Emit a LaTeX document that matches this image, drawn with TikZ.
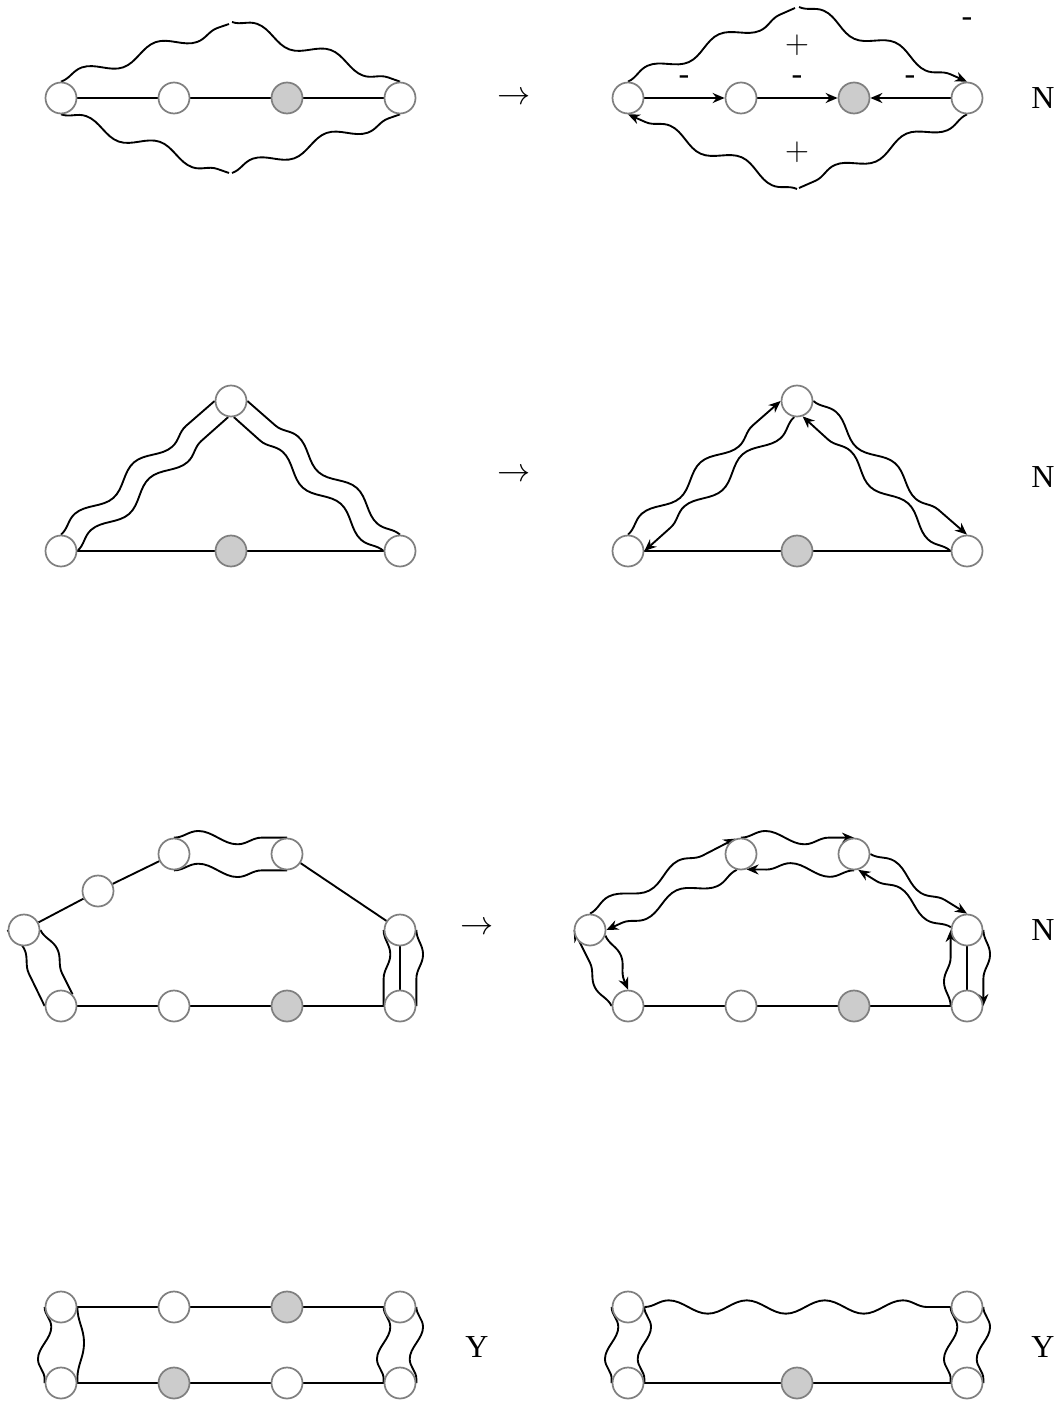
\documentclass[tikz,border=0pt]{standalone}
\usepackage{fontspec}
\setmainfont{Liberation Serif}
\usetikzlibrary{arrows.meta,decorations.pathmorphing,backgrounds}

\begin{document}
\begin{tikzpicture}[
    x=0.75pt, y=-0.75pt,
    wnode/.style={circle, draw=black!50, line width=1.3pt, fill=white, minimum size=23.25pt, inner sep=0pt},
    gnode/.style={wnode, fill=black!20},
    wavy/.style={decorate, decoration={snake, segment length=58.5pt, amplitude=5pt}},
    lbl/.style={font=\fontsize{24}{28}\selectfont, inner sep=0pt},
    arr/.style={font=\fontsize{24}{28}\selectfont, inner sep=0pt},
    >={Stealth[length=9pt,width=7.5pt]}
]
\useasboundingbox (0,0) rectangle (1060,1401);

% row 1
\node[wnode] (a1) at (61,98) {};
\node[wnode] (a2) at (174,98) {};
\node[gnode] (a3) at (287,98) {};
\node[wnode] (a4) at (400,98) {};
\coordinate (at1) at (229,24);
\coordinate (at2) at (232,22);
\coordinate (ab1) at (229,173);
\coordinate (ab2) at (232,173);

\node[wnode] (b1) at (628,98) {};
\node[wnode] (b2) at (741,98) {};
\node[gnode] (b3) at (854,98) {};
\node[wnode] (b4) at (967,98) {};
\coordinate (bt1) at (795,8);
\coordinate (bt2) at (799,7);
\coordinate (bb1) at (797,189);
\coordinate (bb2) at (799,188);

\node[arr] (s1) at (514,98) {$\rightarrow$};
\node[lbl] (r1) at (1043,98) {N};
\node[lbl] (pa) at (797,45) {$+$};
\node[lbl] (pb) at (797,152) {$+$};
\node[lbl] (ma) at (684,80) {-};
\node[lbl] (mb) at (797,80) {-};
\node[lbl] (mc) at (910,80) {-};
\node[lbl] (md) at (967,22) {-};

% row 2
\node[wnode] (c1) at (231,401) {};
\node[wnode] (c2) at (61,551) {};
\node[gnode] (c3) at (231,551) {};
\node[wnode] (c4) at (400,551) {};

\node[wnode] (d1) at (797,401) {};
\node[wnode] (d2) at (628,551) {};
\node[gnode] (d3) at (797,551) {};
\node[wnode] (d4) at (967,551) {};

\node[arr] (s2) at (514,475) {$\rightarrow$};
\node[lbl] (r2) at (1043,477) {N};

% row 3
\node[wnode] (e1) at (24,930) {};
\node[wnode] (e2) at (98,891) {};
\node[wnode] (e3) at (174,854) {};
\node[wnode] (e4) at (287,854) {};
\node[wnode] (e5) at (400,930) {};
\node[wnode] (f1) at (61,1006) {};
\node[wnode] (f2) at (174,1006) {};
\node[gnode] (f3) at (287,1006) {};
\node[wnode] (f4) at (400,1006) {};

\node[wnode] (g1) at (590,930) {};
\node[wnode] (g2) at (741,854) {};
\node[wnode] (g3) at (854,854) {};
\node[wnode] (g4) at (967,930) {};
\node[wnode] (h1) at (628,1006) {};
\node[wnode] (h2) at (741,1006) {};
\node[gnode] (h3) at (854,1006) {};
\node[wnode] (h4) at (967,1006) {};

\node[arr] (s3) at (477,928) {$\rightarrow$};
\node[lbl] (r3) at (1043,930) {N};

% row 4
\node[wnode] (k1) at (61,1307) {};
\node[wnode] (k2) at (174,1307) {};
\node[gnode] (k3) at (287,1307) {};
\node[wnode] (k4) at (400,1307) {};
\node[wnode] (m1) at (61,1383) {};
\node[gnode] (m2) at (174,1383) {};
\node[wnode] (m3) at (287,1383) {};
\node[wnode] (m4) at (400,1383) {};

\node[wnode] (n1) at (628,1307) {};
\node[wnode] (n2) at (967,1307) {};
\node[wnode] (p1) at (628,1383) {};
\node[gnode] (p2) at (797,1383) {};
\node[wnode] (p3) at (967,1383) {};

\node[lbl] (r4) at (477,1347) {Y};
\node[lbl] (r5) at (1043,1347) {Y};

\begin{scope}[on background layer={line width=1.4pt}]
% row 1
\draw (a1) -- (a2) -- (a3) -- (a4);
\draw[wavy] (a1.north) -- (at1);
\draw[wavy] (at2) -- (a4.north);
\draw[wavy] (a1.south) -- (ab1);
\draw[wavy] (ab2) -- (a4.south);

\draw[->] (b1) -- (b2);
\draw[->] (b2) -- (b3);
\draw[->] (b4) -- (b3);
\draw[wavy] (b1.north) -- (bt1);
\draw[wavy, ->] (bt2) -- (b4.north);
\draw[wavy] (b4.south) -- (bb2);
\draw[wavy, ->] (bb1) -- (b1.south);

% row 2
\draw (c2) -- (c3) -- (c4);
\draw[wavy] (c2.north) -- (c1.west);
\draw[wavy] (c2.east) -- (c1.-100);
\draw[wavy] (c4.north) -- (c1.east);
\draw[wavy] (c4.west) -- (c1.-80);

\draw (d2) -- (d3) -- (d4);
\draw[wavy, ->] (d2.north) -- (d1.west);
\draw[wavy, ->] (d1.-100) -- (d2.east);
\draw[wavy, ->] (d1.east) -- (d4.north);
\draw[wavy, ->] (d4.west) -- (d1.-70);

% row 3
\draw (e1) -- (e2) -- (e3);
\draw (e4) -- (e5);
\draw (f1) -- (f2) -- (f3) -- (f4);
\draw (e5) -- (f4);
\draw[wavy] (e3.north) -- (e4.north);
\draw[wavy] (e3.south) -- (e4.south);
\draw[wavy] (e5.west) -- (f4.west);
\draw[wavy] (e5.east) -- (f4.east);
\draw[wavy] (e1.west) -- (f1.west);
\draw[wavy] (e1.east) -- (f1.north east);

\draw (h1) -- (h2) -- (h3) -- (h4);
\draw (g4) -- (h4);
\draw[wavy, ->] (g1.north) -- (g2.110);
\draw[wavy, ->] (g2.north) -- (g3.north);
\draw[wavy, ->] (g3.east) -- (g4.north);
\draw[wavy, ->] (g4.east) -- (h4.east);
\draw[wavy, ->] (h4.west) -- (g4.west);
\draw[wavy, ->] (g4.170) -- (g3.-75);
\draw[wavy, ->] (g3.south) -- (g2.-70);
\draw[wavy, ->] (g2.-105) -- (g1.east);
\draw[wavy, ->] (g1.-20) -- (h1.north);
\draw[wavy, ->] (h1.west) -- (g1.west);

% row 4
\draw (k1) -- (k2) -- (k3) -- (k4);
\draw (m1) -- (m2) -- (m3) -- (m4);
\draw[wavy, decoration={segment length=48pt}] (k1.west) -- (m1.west);
\draw[wavy, decoration={segment length=86pt}] (k1.east) -- (m1.east);
\draw[wavy, decoration={segment length=48pt}] (k4.west) -- (m4.west);
\draw[wavy, decoration={segment length=48pt}] (k4.east) -- (m4.east);

\draw (p1) -- (p2) -- (p3);
\draw[wavy] (n1.east) -- (n2.west);
\draw[wavy, decoration={segment length=48pt}] (n1.west) -- (p1.west);
\draw[wavy, decoration={segment length=48pt}] (n1.east) -- (p1.east);
\draw[wavy, decoration={segment length=48pt}] (n2.west) -- (p3.west);
\draw[wavy, decoration={segment length=48pt}] (n2.east) -- (p3.east);
\end{scope}
\end{tikzpicture}
\end{document}
